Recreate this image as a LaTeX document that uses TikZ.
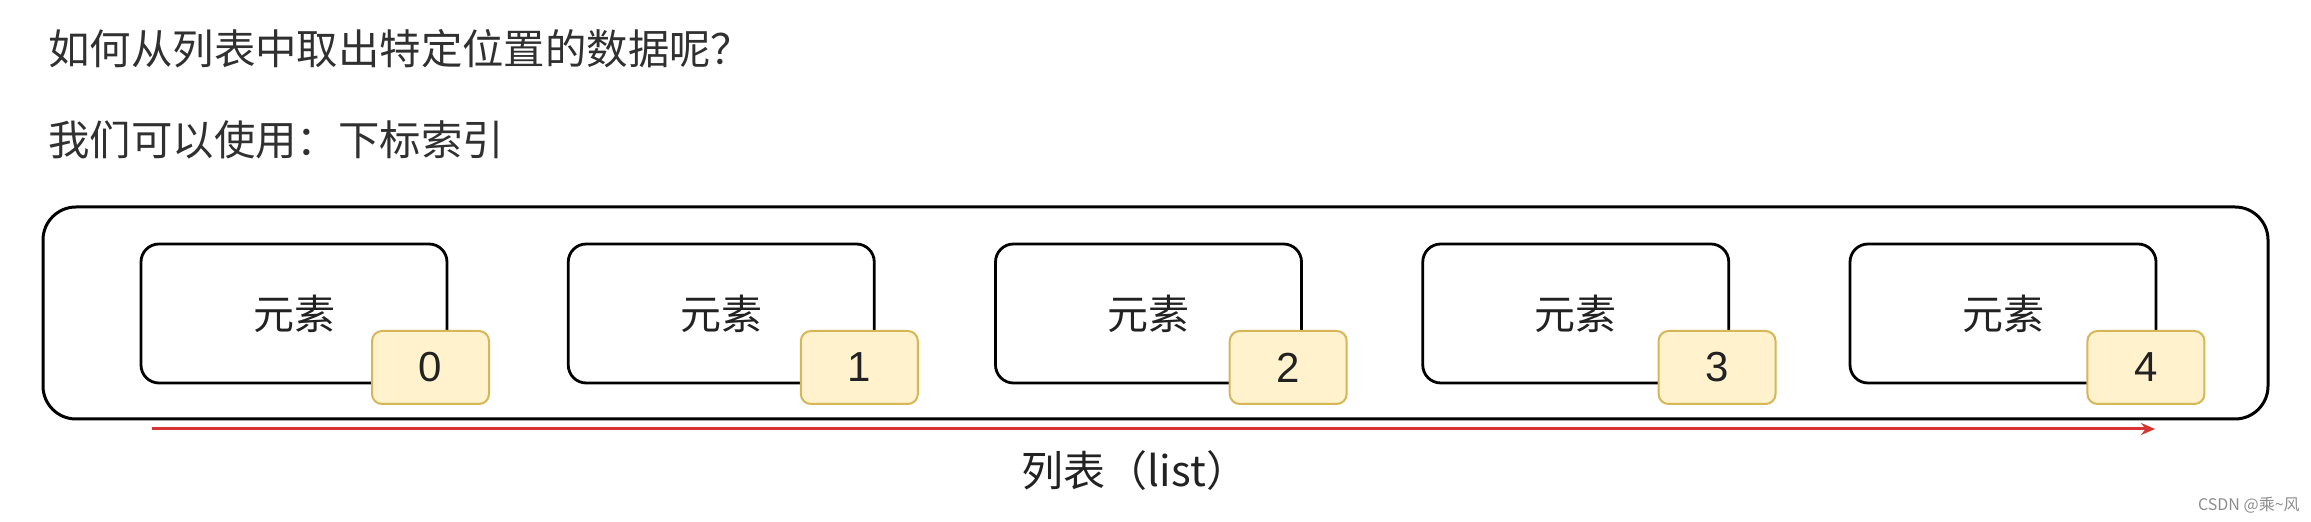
\documentclass[tikz,border=0pt]{standalone}
\usepackage{fontspec}
\setmainfont{Liberation Sans}
\newfontfamily\cjk{Noto Sans CJK SC}
\usetikzlibrary{arrows.meta}
\definecolor{idxfill}{HTML}{FFF2CC}
\definecolor{idxdraw}{HTML}{D6B656}
\definecolor{arrowred}{HTML}{D83434}
\definecolor{txt}{HTML}{222222}
\definecolor{headtxt}{HTML}{303030}
\begin{document}
\begin{tikzpicture}[x=0.5pt,y=-0.5pt,
  outerbox/.style={draw=black,line width=1.5pt,rounded corners=16.5pt,minimum width=1112.5pt,minimum height=106pt,inner sep=0pt,outer sep=0pt},
  elembox/.style={draw=black,line width=1.4pt,rounded corners=9pt,minimum width=153pt,minimum height=69.5pt,inner sep=0pt,outer sep=0pt,font=\cjk\fontsize{20.5pt}{24pt}\selectfont,text=txt},
  idxbox/.style={draw=idxdraw,fill=idxfill,line width=1pt,rounded corners=5pt,minimum width=58.5pt,minimum height=36.5pt,inner sep=0pt,outer sep=0pt,font=\fontsize{21pt}{24pt}\selectfont,text=txt},
  headline/.style={anchor=west,inner sep=0pt,font=\cjk\fontsize{20.7pt}{24pt}\selectfont,text=headtxt},
  listarrow/.style={draw=arrowred,line width=1.5pt,-{Stealth[length=7pt,width=6pt]}}
]
\useasboundingbox (0,0) rectangle (2311,522);
\node[headline] (q1) at (48,49) {如何从列表中取出特定位置的数据呢？};
\node[headline] (q2) at (48,140) {我们可以使用：下标索引};
\node[outerbox] (outer) at (1155.5,313) {};
\foreach \i in {0,...,4}{
  \node[elembox] (e\i) at ({294+427.25*\i},313.5) {元素};
  \node[idxbox] (n\i) at ({294+427.25*\i+136.5+1.6*\i},367.5) {\i};
}
\coordinate (as) at (152,429);
\coordinate (ae) at (2155,429);
\draw[listarrow] (as) -- (ae);
\node[inner sep=0pt,font=\cjk\fontsize{21pt}{24pt}\selectfont,text=txt] (lbl) at (1135,471) {列表（list）};
\node[anchor=east,inner sep=0pt,font=\cjk\fontsize{8pt}{10pt}\selectfont,text=black!45] (wm) at (2300,505) {CSDN @乘{\char"7E}风};
\end{tikzpicture}
\end{document}
